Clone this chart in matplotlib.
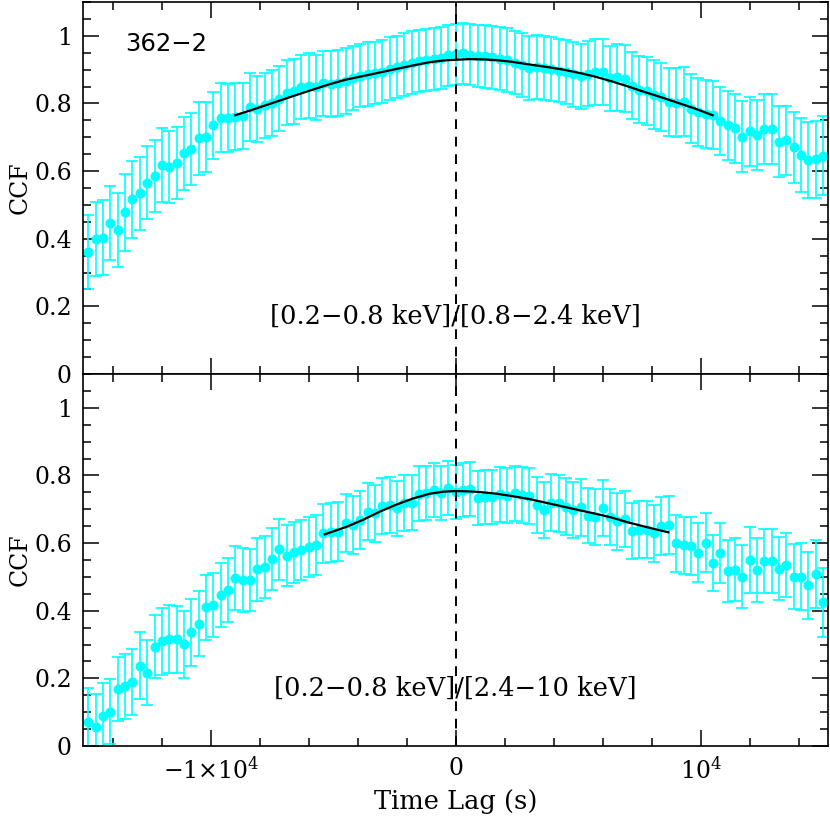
import numpy as np
import matplotlib
matplotlib.use('Agg')
import matplotlib.pyplot as plt
from matplotlib.ticker import MultipleLocator, FixedLocator

plt.rcParams['font.family'] = 'DejaVu Serif'
plt.rcParams['mathtext.fontset'] = 'dejavuserif'

# %% data
lags = np.arange(-15000, 15001, 300)  # time lag bins (s)

ccf_soft_mid = [0.361, 0.400, 0.403, 0.446, 0.425, 0.478, 0.516, 0.534, 0.566, 0.586,
                0.618, 0.611, 0.624, 0.652, 0.665, 0.697, 0.701, 0.735, 0.758, 0.756,
                0.760, 0.763, 0.790, 0.784, 0.795, 0.802, 0.814, 0.831, 0.836, 0.849,
                0.853, 0.848, 0.859, 0.857,
                0.860, 0.866, 0.876, 0.882, 0.886, 0.890, 0.894, 0.903, 0.907, 0.914,
                0.920, 0.925, 0.928, 0.931, 0.934, 0.942, 0.945, 0.948, 0.944, 0.941,
                0.940, 0.936, 0.932, 0.928, 0.921, 0.914, 0.905, 0.907, 0.905, 0.901,
                0.897, 0.893, 0.886,
                0.880, 0.888, 0.893, 0.892, 0.874, 0.877, 0.873, 0.853, 0.841, 0.836,
                0.826, 0.820, 0.804, 0.802, 0.805, 0.784, 0.774, 0.768, 0.765, 0.748,
                0.736, 0.726, 0.702, 0.717, 0.706, 0.725, 0.725, 0.687, 0.691, 0.670,
                0.648, 0.632, 0.635, 0.645]
err_soft_mid = [0.110, 0.109, 0.110, 0.110, 0.110, 0.114, 0.113, 0.108, 0.109, 0.106,
                0.110, 0.106, 0.107, 0.108, 0.107, 0.108, 0.104, 0.100, 0.101, 0.100,
                0.099, 0.098, 0.100, 0.098, 0.096, 0.097, 0.097, 0.096, 0.096, 0.095,
                0.096, 0.096, 0.097, 0.097,
                0.097, 0.097, 0.094, 0.094, 0.095, 0.093, 0.093, 0.092, 0.092, 0.093,
                0.093, 0.092, 0.091, 0.091, 0.091, 0.091, 0.090, 0.090, 0.090, 0.091,
                0.093, 0.093, 0.093, 0.094, 0.094, 0.095, 0.094, 0.095, 0.095, 0.095,
                0.094, 0.095, 0.096,
                0.096, 0.097, 0.097, 0.098, 0.097, 0.098, 0.099, 0.099, 0.100, 0.100,
                0.101, 0.101, 0.101, 0.102, 0.102, 0.102, 0.101, 0.100, 0.100, 0.101,
                0.102, 0.103, 0.104, 0.103, 0.103, 0.103, 0.104, 0.104, 0.102, 0.106,
                0.110, 0.112, 0.114, 0.117]

ccf_soft_hard = [0.072, 0.057, 0.089, 0.101, 0.168, 0.176, 0.190, 0.238, 0.217, 0.294,
                 0.310, 0.317, 0.315, 0.301, 0.336, 0.362, 0.410, 0.417, 0.447, 0.462,
                 0.496, 0.491, 0.491, 0.523, 0.530, 0.553, 0.582, 0.563, 0.573, 0.580,
                 0.588, 0.594, 0.629, 0.632,
                 0.634, 0.659, 0.654, 0.669, 0.693, 0.688, 0.710, 0.713, 0.703, 0.718,
                 0.720, 0.746, 0.748, 0.757, 0.748, 0.762, 0.752, 0.757, 0.760, 0.733,
                 0.736, 0.736, 0.744, 0.740, 0.747, 0.742, 0.738, 0.713, 0.698, 0.719,
                 0.718, 0.708, 0.698,
                 0.706, 0.681, 0.676, 0.703, 0.678, 0.664, 0.671, 0.636, 0.639, 0.639,
                 0.629, 0.651, 0.654, 0.600, 0.593, 0.592, 0.572, 0.601, 0.542, 0.570,
                 0.518, 0.521, 0.501, 0.550, 0.521, 0.547, 0.547, 0.524, 0.536, 0.501,
                 0.501, 0.476, 0.508, 0.425]
err_soft_hard = [0.100, 0.098, 0.097, 0.096, 0.095, 0.096, 0.097, 0.098, 0.097, 0.092,
                 0.099, 0.101, 0.100, 0.099, 0.098, 0.097, 0.096, 0.095, 0.095, 0.094,
                 0.095, 0.094, 0.093, 0.093, 0.092, 0.091, 0.090, 0.090, 0.090, 0.089,
                 0.089, 0.089, 0.088, 0.088,
                 0.087, 0.086, 0.085, 0.085, 0.084, 0.084, 0.083, 0.083, 0.082, 0.082,
                 0.081, 0.081, 0.080, 0.080, 0.080, 0.080, 0.080, 0.080, 0.080, 0.080,
                 0.081, 0.081, 0.081, 0.082, 0.082, 0.082, 0.083, 0.083, 0.083, 0.084,
                 0.084, 0.084, 0.084,
                 0.084, 0.082, 0.083, 0.083, 0.083, 0.084, 0.084, 0.084, 0.084, 0.084,
                 0.084, 0.085, 0.085, 0.084, 0.085, 0.086, 0.086, 0.087, 0.083, 0.088,
                 0.092, 0.093, 0.094, 0.099, 0.095, 0.096, 0.096, 0.093, 0.095, 0.097,
                 0.098, 0.099, 0.100, 0.102]

# fitted curves, sampled off the figure
fit1_lag = [-9000, -8400, -7000, -6000, -5143, -4500, -3782, -3000, -2422, -1700,
            -1061, -500, 0, 571, 1200, 1660, 2300, 3020, 3700, 4381, 5061, 5700,
            6340, 7000, 7700, 8400, 9061, 9800, 10490]
fit1_ccf = [0.765, 0.779, 0.813, 0.837, 0.857, 0.870, 0.881, 0.893, 0.902, 0.913,
            0.922, 0.927, 0.929, 0.931, 0.930, 0.928, 0.923, 0.915, 0.908, 0.900,
            0.890, 0.879, 0.866, 0.851, 0.834, 0.818, 0.802, 0.784, 0.765]
fit2_lag = [-5350, -4500, -3782, -3102, -2422, -1741, -1061, -500, 0, 500, 980,
            1660, 2300, 3020, 3700, 4381, 5061, 5700, 6340, 7000, 7701, 8200, 8680]
fit2_ccf = [0.626, 0.647, 0.669, 0.693, 0.714, 0.732, 0.746, 0.752, 0.754, 0.753,
            0.751, 0.746, 0.739, 0.730, 0.719, 0.708, 0.697, 0.687, 0.676, 0.662,
            0.649, 0.640, 0.632]

band_labels = ['[0.2\u22120.8 keV]/[0.8\u22122.4 keV]',
               '[0.2\u22120.8 keV]/[2.4\u221210 keV]']

# %%
fig, ax = plt.subplots(2, 1, figsize=(8.3, 8.18), dpi=100, sharex=True)
fig.subplots_adjust(left=0.1, right=0.9976, top=0.9976, bottom=0.088, hspace=0)

for ax_, ccf, err, flag, fccf, lab in zip(ax, [ccf_soft_mid, ccf_soft_hard],
                                          [err_soft_mid, err_soft_hard],
                                          [fit1_lag, fit2_lag], [fit1_ccf, fit2_ccf],
                                          band_labels):
    ax_.errorbar(lags, ccf, yerr=err, fmt='o', color='#00ffff', ms=6.2,
                 elinewidth=1.2, capsize=4.5, capthick=1.2, zorder=2)
    ax_.plot(flag, fccf, color='black', lw=1.6, zorder=3)
    ax_.axvline(0, color='black', lw=1.4, ls=(0, (5, 4)), zorder=4)
    ax_.text(0, 0.172, lab, ha='center', va='center', fontsize=18.5, zorder=5)
    ax_.set_xlim(-15220, 15200)
    ax_.set_ylim(0, 1.1)
    ax_.set_ylabel('CCF', fontsize=17, labelpad=2)
    ax_.yaxis.set_major_locator(FixedLocator([0, 0.2, 0.4, 0.6, 0.8, 1.0]))
    ax_.yaxis.set_minor_locator(MultipleLocator(0.05))
    ax_.set_yticklabels(['0', '0.2', '0.4', '0.6', '0.8', '1'])
    ax_.xaxis.set_major_locator(FixedLocator([-10000, 0, 10000]))
    ax_.xaxis.set_minor_locator(MultipleLocator(2000))
    ax_.tick_params(which='both', direction='in', top=True, right=True, width=1.1,
                    labelsize=17, pad=8)
    ax_.tick_params(which='major', length=11.5)
    ax_.tick_params(which='minor', length=6)
    for s in ax_.spines.values():
        s.set_linewidth(1.2)

ax[0].text(-13500, 0.975, '362\u22122', ha='left', va='center', fontsize=17.5,
           family='DejaVu Sans')
ax[1].set_xticklabels([r'$-1{\times}10^4$', '0', r'$10^4$'])
ax[1].set_xlabel('Time Lag (s)', fontsize=18.5, labelpad=4)

fig.savefig('out.png', dpi=100)
